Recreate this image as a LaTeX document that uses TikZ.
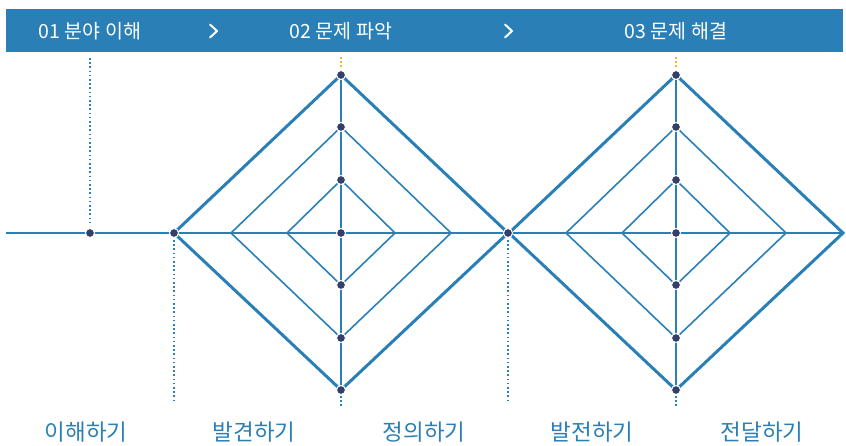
\documentclass[tikz,border=0pt]{standalone}
\usepackage{fontspec}
\setmainfont{Noto Sans CJK KR}
\definecolor{bar}{HTML}{2A80B6}
\definecolor{ln}{HTML}{2A80B6}
\definecolor{dotc}{HTML}{34406A}
\definecolor{org}{HTML}{F5B731}
\begin{document}
\begin{tikzpicture}[x=1pt,y=-1pt,
  outer/.style={draw=ln,line width=3pt},
  inner/.style={draw=ln,line width=1.6pt},
  axis/.style={draw=ln,line width=2pt},
  dotline/.style={draw=ln,line width=1.6pt,dash pattern=on 1.6pt off 2.6pt},
  orgline/.style={draw=org,line width=1.6pt,dash pattern=on 1.6pt off 2.6pt},
  pt/.style={circle,fill=dotc,draw=white,line width=1pt,inner sep=0pt,minimum size=9pt},
  chev/.style={draw=white,line width=2pt,line cap=round,line join=round},
  head/.style={text=white,font=\fontsize{19.5}{21}\selectfont,anchor=center},
  lab/.style={text=ln,font=\fontsize{22.5}{24}\selectfont,anchor=center}]
\useasboundingbox (0,0) rectangle (846,446);
\fill[bar] (6,9) rectangle (843,52);
\node[head] (h1) at (90,31) {01 분야 이해};
\node[head] (h2) at (341,31) {02 문제 파악};
\node[head] (h3) at (676,31) {03 문제 해결};
\coordinate (g1) at (214,31);
\coordinate (g2) at (509,31);
\draw[chev] ([shift={(-4,-6.5)}]g1) -- ([shift={(3,0)}]g1) -- ([shift={(-4,6.5)}]g1);
\draw[chev] ([shift={(-4,-6.5)}]g2) -- ([shift={(3,0)}]g2) -- ([shift={(-4,6.5)}]g2);
% coordinates
\coordinate (L0) at (6,233);
\coordinate (R0) at (843,233);
\coordinate (a) at (90,233);
\coordinate (b) at (174,233);
\coordinate (c) at (508,233);
% dotted verticals
\coordinate (aT) at (90,58);
\coordinate (bB) at (174,403);
\coordinate (cB) at (508,403);
\draw[dotline] (aT) -- (90,226);
\draw[dotline] (174,240) -- (bB);
\draw[dotline] (508,240) -- (cB);
% horizontal axis
\draw[axis] (L0) -- (R0);
\foreach \cx/\nm in {341/p,676/q}{
  \coordinate (\nm T) at (\cx,75);
  \coordinate (\nm B) at (\cx,390);
  \draw[orgline] (\cx,57) -- (\cx,70);
  \draw[dotline] (\cx,396) -- (\cx,406);
  \draw[inner] (\cx-54,233) -- (\cx,180) -- (\cx+54,233) -- (\cx,285) -- cycle;
  \draw[inner] (\cx-110,233) -- (\cx,127) -- (\cx+110,233) -- (\cx,338) -- cycle;
  \draw[axis] (\nm T) -- (\nm B);
  \draw[outer,line join=miter] (\cx-167,233) -- (\nm T) -- (\cx+167,233) -- (\nm B) -- cycle;
  \foreach \yy in {75,127,180,233,285,338,390}{\node[pt] at (\cx,\yy) {};}
}
\node[pt] (na) at (a) {};
\node[pt] (nb) at (b) {};
\node[pt] (nc) at (c) {};
% labels
\node[lab] (l1) at (86,432) {이해하기};
\node[lab] (l2) at (254,432) {발견하기};
\node[lab] (l3) at (424,432) {정의하기};
\node[lab] (l4) at (592,432) {발전하기};
\node[lab] (l5) at (762,432) {전달하기};
\end{tikzpicture}
\end{document}
